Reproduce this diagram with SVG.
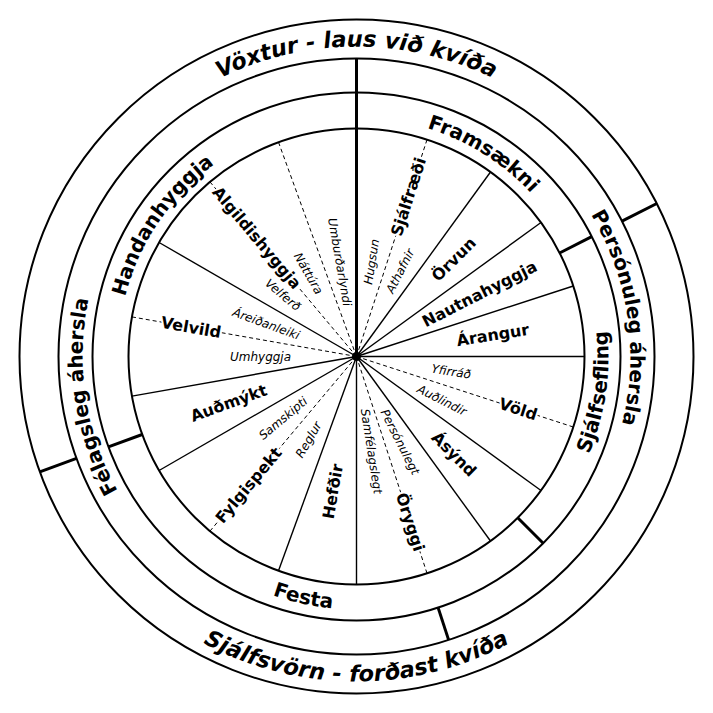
<svg xmlns="http://www.w3.org/2000/svg" xmlns:xlink="http://www.w3.org/1999/xlink" width="713" height="713" viewBox="0 0 713 713">
<style>
.ring{fill:none;stroke:#000;stroke-width:2}
.ray{stroke:#000;stroke-width:1.4;fill:none}
.dash{stroke:#000;stroke-width:1;stroke-dasharray:4 3;fill:none}
.div{stroke:#000;stroke-width:3;fill:none}
text{font-family:"DejaVu Sans","Liberation Sans",sans-serif;fill:#000}
.outer{font-size:22.5px;font-weight:bold;font-style:oblique}
.band{font-size:20px;font-weight:bold}
.v{font-size:16px;font-weight:bold;paint-order:stroke;stroke:#fff;stroke-width:4;stroke-linejoin:round}
.s{font-size:12px;font-style:oblique}
</style>
<defs>
<path id="pTop310" d="M46.5,356.5 A310,310 0 0 1 666.5,356.5"/>
<path id="pBot325" d="M31.5,356.5 A325,325 0 0 0 681.5,356.5"/>
<path id="pRight274" d="M356.5,82.5 A274,274 0 0 1 356.5,630.5"/>
<path id="pLeft274" d="M356.5,630.5 A274,274 0 0 1 356.5,82.5"/>
<path id="pTop239" d="M117.5,356.5 A239,239 0 0 1 595.5,356.5"/>
<path id="pRight252" d="M356.5,608.5 A252,252 0 0 0 356.5,104.5"/>
<path id="pBot253" d="M103.5,356.5 A253,253 0 0 0 609.5,356.5"/>
</defs>
<rect width="713" height="713" fill="#fff"/>
<g id="rings">
<circle class="ring" cx="356.5" cy="356.5" r="337"/>
<circle class="ring" cx="356.5" cy="356.5" r="298"/>
<circle class="ring" cx="356.5" cy="356.5" r="264"/>
<circle class="ring" cx="356.5" cy="356.5" r="228"/>
</g>
<g id="connectors">
<line class="div" x1="356.5" y1="356.5" x2="356.5" y2="58.5"/>
<line class="ray" x1="356.5" y1="356.5" x2="356.5" y2="584.5"/>
<line class="ray" x1="356.5" y1="356.5" x2="490.5" y2="172"/>
<line class="ray" x1="356.5" y1="356.5" x2="541" y2="222.5"/>
<line class="ray" x1="356.5" y1="356.5" x2="573.3" y2="286"/>
<line class="ray" x1="356.5" y1="356.5" x2="584.5" y2="356.5"/>
<line class="ray" x1="356.5" y1="356.5" x2="541" y2="490.5"/>
<line class="ray" x1="356.5" y1="356.5" x2="490.5" y2="541"/>
<line class="ray" x1="356.5" y1="356.5" x2="278.5" y2="570.8"/>
<line class="ray" x1="356.5" y1="356.5" x2="159.1" y2="470.5"/>
<line class="ray" x1="356.5" y1="356.5" x2="132" y2="396.1"/>
<line class="ray" x1="356.5" y1="356.5" x2="159.1" y2="242.5"/>
<line class="dash" x1="356.5" y1="356.5" x2="427" y2="139.7"/>
<line class="dash" x1="356.5" y1="356.5" x2="573.3" y2="427"/>
<line class="dash" x1="356.5" y1="356.5" x2="427" y2="573.3"/>
<line class="dash" x1="356.5" y1="356.5" x2="209.9" y2="531.2"/>
<line class="dash" x1="356.5" y1="356.5" x2="132" y2="316.9"/>
<line class="dash" x1="356.5" y1="356.5" x2="209.9" y2="181.8"/>
<line class="dash" x1="356.5" y1="356.5" x2="278.5" y2="142.2"/>
<line class="div" x1="559.6" y1="253" x2="591.7" y2="236.6"/>
<line class="div" x1="622" y1="221.2" x2="656.8" y2="203.5"/>
<line class="div" x1="517.7" y1="517.7" x2="543.2" y2="543.2"/>
<line class="div" x1="438.1" y1="607.6" x2="448.6" y2="639.9"/>
<line class="div" x1="142.2" y1="434.5" x2="108.4" y2="446.8"/>
<line class="div" x1="76.5" y1="458.4" x2="39.8" y2="471.8"/>
<circle cx="356.5" cy="356.5" r="4.5" fill="#000"/>
</g>
<g id="outer-labels">
<text class="outer"><textPath xlink:href="#pTop310" startOffset="50%" text-anchor="middle">Vöxtur - laus við kvíða</textPath></text>
<text class="outer"><textPath xlink:href="#pBot325" startOffset="50%" text-anchor="middle">Sjálfsvörn - forðast kvíða</textPath></text>
</g>
<g id="focus-labels">
<text class="band"><textPath xlink:href="#pRight274" startOffset="45.3%" text-anchor="middle">Persónuleg áhersla</textPath></text>
<text class="band"><textPath xlink:href="#pLeft274" startOffset="45.2%" text-anchor="middle">Félagsleg áhersla</textPath></text>
</g>
<g id="group-labels">
<text class="band"><textPath xlink:href="#pTop239" startOffset="18.9%" text-anchor="middle">Handanhyggja</textPath></text>
<text class="band"><textPath xlink:href="#pTop239" startOffset="67.8%" text-anchor="middle">Framsækni</textPath></text>
<text class="band"><textPath xlink:href="#pRight252" startOffset="45.3%" text-anchor="middle">Sjálfsefling</textPath></text>
<text class="band"><textPath xlink:href="#pBot253" startOffset="43.1%" text-anchor="middle">Festa</textPath></text>
</g>
<g id="node-sjalfraedi">
<text class="v" text-anchor="middle" dy="0.35em" transform="translate(408.4,196.7) rotate(-72)">Sjálfræði</text>
<text class="s" text-anchor="middle" dy="0.35em" transform="translate(371.5,261.7) rotate(-81)">Hugsun</text>
<text class="s" text-anchor="middle" dy="0.35em" transform="translate(400.1,271) rotate(-63)">Athafnir</text>
</g>
<g id="node-orvun"><text class="v" text-anchor="middle" dy="0.35em" transform="translate(453.7,259.3) rotate(-45)">Örvun</text></g>
<g id="node-nautnahyggja"><text class="v" text-anchor="middle" dy="0.35em" transform="translate(479.5,293.8) rotate(-27)">Nautnahyggja</text></g>
<g id="node-arangur"><text class="v" text-anchor="middle" dy="0.35em" transform="translate(492.8,334.9) rotate(-9)">Árangur</text></g>
<g id="node-vold">
<text class="v" text-anchor="middle" dy="0.35em" transform="translate(518.2,409) rotate(18)">Völd</text>
<text class="s" text-anchor="middle" dy="0.35em" transform="translate(451.3,371.5) rotate(9)">Yfirráð</text>
<text class="s" text-anchor="middle" dy="0.35em" transform="translate(442,400.1) rotate(27)">Auðlindir</text>
</g>
<g id="node-asynd"><text class="v" text-anchor="middle" dy="0.35em" transform="translate(454.1,454.1) rotate(45)">Ásýnd</text></g>
<g id="node-oryggi">
<text class="v" text-anchor="middle" dy="0.35em" transform="translate(410.3,522) rotate(72)">Öryggi</text>
<text class="s" text-anchor="middle" dy="0.35em" transform="translate(400.1,442) rotate(63)">Persónulegt</text>
<text class="s" text-anchor="middle" dy="0.35em" transform="translate(371.5,451.3) rotate(81)">Samfélagslegt</text>
</g>
<g id="node-hefdir"><text class="v" text-anchor="middle" dy="0.35em" transform="translate(332.7,491.4) rotate(-80)">Hefðir</text></g>
<g id="node-fylgispekt">
<text class="v" text-anchor="middle" dy="0.35em" transform="translate(248.5,485.2) rotate(-50)">Fylgispekt</text>
<text class="s" text-anchor="middle" dy="0.35em" transform="translate(308.5,439.6) rotate(-60)">Reglur</text>
<text class="s" text-anchor="middle" dy="0.35em" transform="translate(283,418.2) rotate(-40)">Samskipti</text>
</g>
<g id="node-audmykt"><text class="v" text-anchor="middle" dy="0.35em" transform="translate(228.7,403) rotate(-20)">Auðmýkt</text></g>
<g id="node-velvild">
<text class="v" text-anchor="middle" dy="0.35em" transform="translate(191.1,327.3) rotate(10)">Velvild</text>
<text class="s" text-anchor="middle" dy="0.35em" transform="translate(260.5,356.5)">Umhyggja</text>
<text class="s" text-anchor="middle" dy="0.35em" transform="translate(266.3,323.7) rotate(20)">Áreiðanleiki</text>
</g>
<g id="node-algildishyggja">
<text class="v" text-anchor="middle" dy="0.35em" transform="translate(256.9,237.8) rotate(50)">Algildishyggja</text>
<text class="s" text-anchor="middle" dy="0.35em" transform="translate(283,294.8) rotate(40)">Velferð</text>
<text class="s" text-anchor="middle" dy="0.35em" transform="translate(308.5,273.4) rotate(60)">Náttúra</text>
<text class="s" text-anchor="middle" dy="0.35em" transform="translate(339.8,262) rotate(80)">Umburðarlyndi</text>
</g>
</svg>
